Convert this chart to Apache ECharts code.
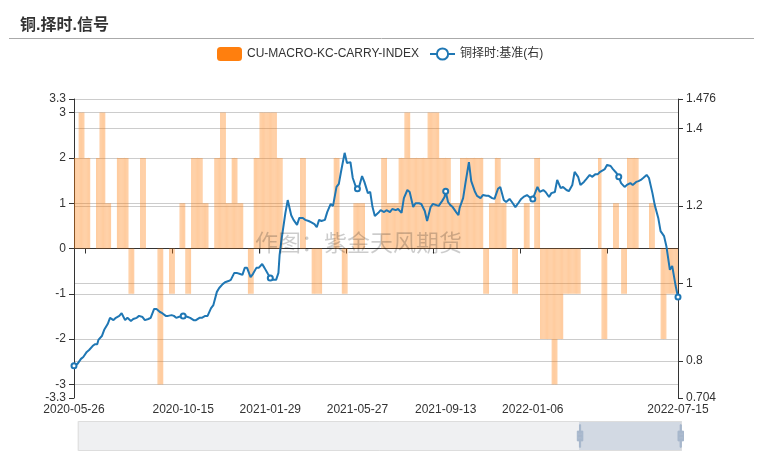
<!DOCTYPE html>
<html>
<head>
<meta charset="utf-8">
<script src="https://cdn.jsdelivr.net/npm/echarts/dist/echarts.min.js"></script>
<style>
html, body { margin: 0; padding: 0; background: #fff; }
#main { width: 763px; height: 458px; }
</style>
</head>
<body>
<div id="main"></div>
<script>
// 交易所休市日（工作日）
const holidays = [
  '2020-06-25', '2020-06-26', '2020-10-01', '2020-10-02', '2020-10-05', '2020-10-06', '2020-10-07', '2020-10-08',
  '2021-01-01', '2021-02-11', '2021-02-12', '2021-02-15', '2021-02-16', '2021-02-17', '2021-04-05',
  '2021-05-03', '2021-05-04', '2021-05-05', '2021-06-14', '2021-09-20', '2021-09-21',
  '2021-10-01', '2021-10-04', '2021-10-05', '2021-10-06', '2021-10-07',
  '2022-01-03', '2022-01-31', '2022-02-01', '2022-02-02', '2022-02-03', '2022-02-04',
  '2022-04-04', '2022-04-05', '2022-05-02', '2022-05-03', '2022-05-04', '2022-06-03'
];

// 周度信号，每个交易周一个值
const signalWeekly = [
  2, 3, 2, 0, 2, 3, 1, 0, 2, 2,
  -1, 0, 2, 0, 0, -3, 0, -1, 0, 0,
  1, -1, 2, 2, 1, 0, 2, 3, 1, 2,
  1, 0, -1, 2, 3, 3, 3, 2, 2, 0,
  0, 0, 2, 0, -1, -1, 0, 0, 2, 0,
  -1, 0, 1, 1, 0, 0, 0, 2, 1, 1,
  2, 3, 2, 2, 2, 3, 3, 2, 2, 1,
  1, 1, 2, 2, 2, 2, -1, 1, 2, 1,
  0, -1, 0, 1, 0, 2, -2, -2, -3, -2,
  -1, -1, -1, 0, 0, 0, 2, -2, 0, 1,
  0, -1, 2, 2, 0, 0, 1, 0, -2, -1, -1
];

// 基准净值：每周最后一个交易日
const baseWeekEnd = [
  0.792, 0.810, 0.828, 0.843, 0.854, 0.880, 0.911, 0.911, 0.923, 0.911,
  0.908, 0.916, 0.905, 0.911, 0.934, 0.923, 0.916, 0.916, 0.913, 0.913,
  0.916, 0.911, 0.905, 0.911, 0.916, 0.944, 0.988, 1.003, 1.009, 1.027,
  1.022, 1.040, 1.024, 1.040, 1.040, 1.014, 1.009, 1.073, 1.120, 1.215,
  1.164, 1.169, 1.164, 1.158, 1.145, 1.161, 1.184, 1.200, 1.257, 1.290,
  1.311, 1.272, 1.244, 1.262, 1.236, 1.174, 1.189, 1.189, 1.192, 1.192,
  1.220, 1.236, 1.207, 1.205, 1.161, 1.205, 1.200, 1.223, 1.202, 1.197,
  1.176, 1.195, 1.259, 1.264, 1.226, 1.228, 1.226, 1.218, 1.249, 1.210,
  1.210, 1.205, 1.223, 1.223, 1.226, 1.236, 1.236, 1.233, 1.267, 1.249,
  1.238, 1.288, 1.254, 1.269, 1.275, 1.282, 1.288, 1.306, 1.295, 1.275,
  1.259, 1.254, 1.254, 1.264, 1.272, 1.272, 1.202, 1.135, 1.096, 1.045, 0.965
];

// 基准净值：每周中间一个交易日（不足三天的周为 null）
const baseMidWeek = [
  0.789, 0.805, 0.823, 0.838, 0.843, 0.864, 0.895, 0.905, 0.916, 0.905,
  0.903, 0.911, 0.913, 0.908, 0.934, 0.926, 0.916, 0.918, 0.911, null,
  0.916, 0.913, 0.905, 0.911, 0.916, 0.936, 0.978, 0.998, 1.006, 1.027,
  1.024, 1.040, 1.016, 1.040, 1.050, 1.024, 1.009, 1.027, null, 1.182,
  1.176, 1.151, 1.169, 1.161, 1.153, 1.164, 1.164, 1.205, 1.249, null,
  1.337, 1.313, 1.246, 1.277, 1.233, 1.197, 1.182, 1.184, 1.184, 1.189,
  1.182, 1.241, 1.197, 1.207, 1.187, 1.197, 1.202, 1.213, 1.210, 1.197,
  1.184, null, 1.220, 1.313, 1.238, 1.220, 1.226, 1.220, 1.244, 1.215,
  1.218, 1.197, 1.218, 1.228, 1.220, 1.249, 1.241, 1.223, 1.236, 1.246,
  1.241, 1.254, 1.275, 1.262, 1.280, 1.282, 1.288, 1.295, 1.303, 1.285,
  null, 1.249, 1.259, 1.262, 1.267, 1.280, 1.233, 1.169, 1.122, 1.035, 0.993
];

// 带圆点的日期
const markDates = ['2020-05-26', '2020-10-15', '2021-01-29', '2021-05-27', '2021-09-13', '2022-01-06', '2022-04-29', '2022-07-15'];
const markValues = [0.787, 0.916, 1.014, 1.244, 1.238, 1.218, 1.275, 0.965];

const labelDates = ['2020-05-26', '2020-10-15', '2021-01-29', '2021-05-27', '2021-09-13', '2022-01-06', '2022-07-15'];

// 交易日
const days = [];
(function () {
  const d = new Date(Date.UTC(2020, 4, 26));
  const end = Date.UTC(2022, 6, 15);
  while (d.getTime() <= end) {
    const dow = d.getUTCDay();
    const s = d.toISOString().slice(0, 10);
    if (dow !== 0 && dow !== 6 && holidays.indexOf(s) < 0) days.push(s);
    d.setUTCDate(d.getUTCDate() + 1);
  }
})();

// 按周分组
const weekOf = [];
const weekDays = [];
(function () {
  let w = -1, lastKey = null;
  days.forEach(function (s, i) {
    const t = new Date(s + 'T00:00:00Z');
    const key = t.getTime() - ((t.getUTCDay() + 6) % 7) * 864e5;
    if (key !== lastKey) { w++; lastKey = key; weekDays.push([]); }
    weekOf.push(w);
    weekDays[w].push(i);
  });
})();

const barData = days.map(function (s, i) { return signalWeekly[weekOf[i]]; });
const lineData = days.map(function () { return null; });
weekDays.forEach(function (list, w) {
  if (list.length >= 3 && baseMidWeek[w] != null) {
    lineData[list[Math.floor((list.length - 1) / 2)]] = { value: baseMidWeek[w], symbol: 'none' };
  }
  lineData[list[list.length - 1]] = { value: baseWeekEnd[w], symbol: 'none' };
});
markDates.forEach(function (s, k) {
  lineData[days.indexOf(s)] = markValues[k];
});

const font = "'Liberation Sans', 'Noto Sans CJK SC', sans-serif";

let option = {
  animation: false,
  textStyle: { fontFamily: font },
  title: {
    text: '铜.择时.信号',
    left: 15,
    top: 13,
    textStyle: { fontSize: 16, fontWeight: 'bold', color: '#333', fontFamily: font }
  },
  graphic: [
    {
      type: 'line',
      shape: { x1: 9, y1: 38.5, x2: 754, y2: 38.5 },
      style: { stroke: '#aaa', lineWidth: 1 }
    },
    {
      type: 'text',
      left: 255,
      top: 233,
      z: 100,
      style: { text: '作图：紫金天风期货', fontSize: 23, fill: 'rgba(0,0,0,0.2)', fontFamily: font }
    }
  ],
  tooltip: { trigger: 'axis' },
  legend: {
    top: 42,
    left: 212,
    itemWidth: 25,
    itemHeight: 14,
    itemGap: 10,
    textStyle: { fontSize: 12, color: '#333' },
    data: [
      { name: 'CU-MACRO-KC-CARRY-INDEX', itemStyle: { color: '#ff7f0e', opacity: 1 } },
      { name: '铜择时:基准(右)' }
    ]
  },
  grid: { left: 74, right: 85, top: 99, bottom: 60 },
  xAxis: [
    {
      type: 'category',
      data: days,
      position: 'bottom',
      boundaryGap: true,
      axisLine: { onZero: true, lineStyle: { color: '#333' } },
      axisTick: {
        show: true,
        interval: function (i) { return i >= 10 && (i - 10) % 75 === 0; },
        lineStyle: { color: '#333' }
      },
      axisLabel: { show: false },
      splitLine: { show: false }
    },
    {
      type: 'category',
      data: days,
      position: 'bottom',
      boundaryGap: false,
      axisLine: { show: false, onZero: false },
      axisTick: { show: false },
      axisLabel: {
        color: '#333',
        fontSize: 12,
        margin: 6,
        interval: function (i, v) { return labelDates.indexOf(v) >= 0; }
      },
      splitLine: { show: false }
    },
    {
      type: 'category',
      data: days,
      show: false
    }
  ],
  yAxis: [
    {
      type: 'value',
      min: -3.3,
      max: 3.3,
      position: 'left',
      axisLine: { show: true, lineStyle: { color: '#333' } },
      axisTick: { show: true, lineStyle: { color: '#333' } },
      axisLabel: { color: '#333', fontSize: 12 },
      splitLine: { show: true, showMinLine: false, lineStyle: { color: '#ccc' } }
    },
    {
      type: 'value',
      min: 0.704,
      max: 1.476,
      position: 'right',
      axisLine: { show: true, lineStyle: { color: '#333' } },
      axisTick: { show: true, lineStyle: { color: '#333' } },
      axisLabel: { color: '#333', fontSize: 12 },
      splitLine: { show: true, showMinLine: false, lineStyle: { color: '#ccc' } }
    }
  ],
  dataZoom: [
    {
      type: 'slider',
      xAxisIndex: 2,
      start: 83,
      end: 100,
      left: 77,
      right: 82,
      top: 421,
      height: 30,
      showDetail: false,
      showDataShadow: false,
      brushSelect: false,
      moveHandleSize: 0,
      backgroundColor: 'rgba(47,69,84,0.08)',
      borderColor: '#ddd',
      fillerColor: 'rgba(167,183,204,0.4)',
      handleIcon: 'path://M8.2,13.6V3.9H6.3v9.7H3.1v14.9h3.3v9.7h1.8v-9.7h3.3V13.6H8.2z M9.7,24.4H4.8v-1.4h4.9V24.4z M9.7,19.1H4.8v-1.4h4.9V19.1z',
      handleSize: '75%',
      handleStyle: { color: '#a7b7cc', borderColor: '#a7b7cc' }
    }
  ],
  series: [
    {
      name: 'CU-MACRO-KC-CARRY-INDEX',
      type: 'bar',
      xAxisIndex: 0,
      yAxisIndex: 0,
      data: barData,
      barCategoryGap: '0%',
      itemStyle: { color: 'rgba(255,127,14,0.4)' }
    },
    {
      name: '铜择时:基准(右)',
      type: 'line',
      xAxisIndex: 1,
      yAxisIndex: 1,
      data: lineData,
      connectNulls: true,
      showSymbol: true,
      showAllSymbol: true,
      symbol: 'emptyCircle',
      symbolSize: 5,
      lineStyle: { color: '#1f77b4', width: 2 },
      itemStyle: { color: '#1f77b4' }
    },
    {
      name: 'shadow',
      type: 'line',
      xAxisIndex: 2,
      yAxisIndex: 0,
      data: barData,
      showSymbol: false,
      silent: true,
      lineStyle: { opacity: 0 },
      tooltip: { show: false }
    }
  ]
};

let myChart = echarts.init(document.getElementById('main'));
myChart.setOption(option);
</script>
</body>
</html>
